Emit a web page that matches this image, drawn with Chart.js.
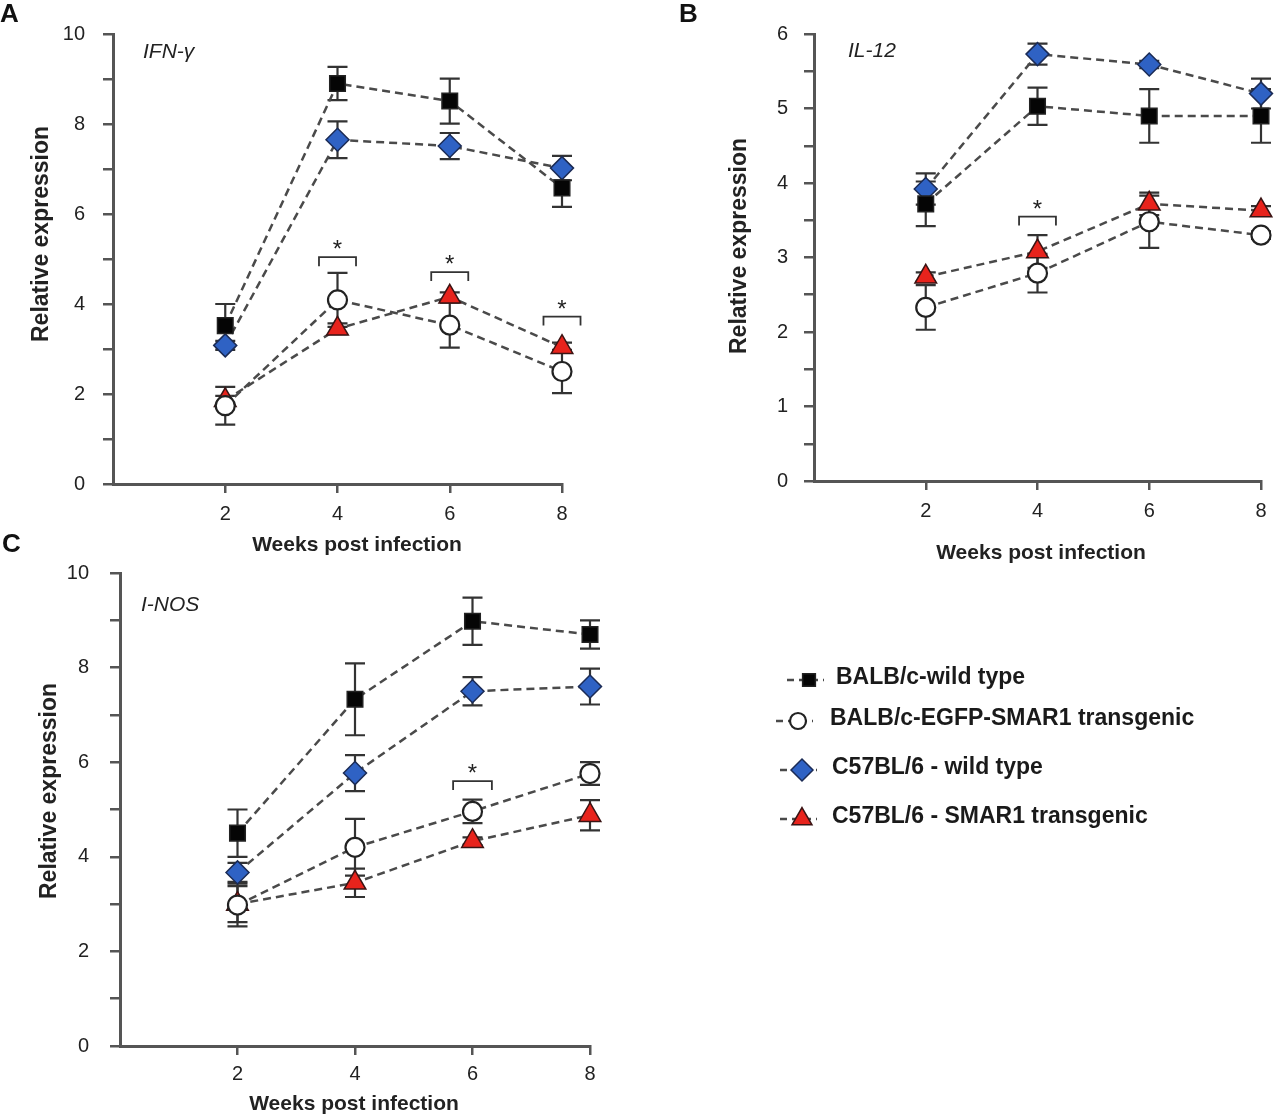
<!DOCTYPE html>
<html><head><meta charset="utf-8">
<script src="https://cdn.jsdelivr.net/npm/chart.js@4.4.1/dist/chart.umd.min.js"></script>
<style>
html,body{margin:0;padding:0;background:#fff}
body{width:1281px;height:1117px;position:relative;overflow:hidden;font-family:'Liberation Sans',Arial,sans-serif}
canvas{position:absolute}
.letter{position:absolute;font-weight:bold;font-size:26px;line-height:1;color:#111}
.gene{position:absolute;font-style:italic;font-size:21px;line-height:1;color:#222}
</style></head><body>
<canvas id="cA" width="640" height="570" style="left:0;top:0"></canvas>
<canvas id="cB" width="601" height="575" style="left:680px;top:0"></canvas>
<canvas id="cC" width="1281" height="577" style="left:0;top:540px"></canvas>
<div class="letter" style="left:0;top:0">A</div>
<div class="letter" style="left:679px;top:0">B</div>
<div class="letter" style="left:2px;top:530px">C</div>
<div class="gene" style="left:143px;top:40px">IFN-γ</div>
<div class="gene" style="left:848px;top:39px">IL-12</div>
<div class="gene" style="left:141px;top:593px">I-NOS</div>
<script>
// ---------- data ----------
const weeks = [2, 4, 6, 8];
const xTickLabels = [2, 4, 6, 8];
const yTickLabels10 = [0, 2, 4, 6, 8, 10];
const yTickLabels6 = [0, 1, 2, 3, 4, 5, 6];
const seriesNames = ['BALB/c-wild type', 'BALB/c-EGFP-SMAR1 transgenic', 'C57BL/6 - wild type', 'C57BL/6 - SMAR1 transgenic'];

// Panel A: IFN-γ
const ifnBalbWT = [3.52, 8.90, 8.51, 6.58];
const ifnBalbWTErr = [0.48, 0.37, 0.50, 0.42];
const ifnBalbTg = [1.74, 4.09, 3.53, 2.50];
const ifnBalbTgErr = [0.42, 0.60, 0.50, 0.48];
const ifnC57WT = [3.08, 7.65, 7.51, 7.02];
const ifnC57WTErr = [0.10, 0.41, 0.29, 0.27];
const ifnC57Tg = [1.86, 3.45, 4.16, 3.04];
const ifnC57TgErr = [0.10, 0.12, 0.10, 0.10];
const ifnSigWeeks = [4, 6, 8];
const ifnSigLevels = [5.04, 4.71, 3.72];

// Panel B: IL-12
const il12BalbWT = [3.72, 5.03, 4.90, 4.90];
const il12BalbWTErr = [0.30, 0.25, 0.36, 0.36];
const il12BalbTg = [2.33, 2.79, 3.48, 3.30];
const il12BalbTgErr = [0.30, 0.26, 0.35, 0.05];
const il12C57WT = [3.92, 5.73, 5.59, 5.20];
const il12C57WTErr = [0.21, 0.14, 0.05, 0.20];
const il12C57Tg = [2.74, 3.08, 3.72, 3.63];
const il12C57TgErr = [0.06, 0.22, 0.15, 0.06];
const il12SigWeeks = [4];
const il12SigLevels = [3.55];

// Panel C: I-NOS
const inosBalbWT = [4.50, 7.33, 8.98, 8.70];
const inosBalbWTErr = [0.50, 0.76, 0.50, 0.30];
const inosBalbTg = [2.98, 4.20, 4.96, 5.76];
const inosBalbTgErr = [0.45, 0.60, 0.25, 0.24];
const inosC57WT = [3.67, 5.77, 7.50, 7.60];
const inosC57WTErr = [0.20, 0.38, 0.30, 0.38];
const inosC57Tg = [3.00, 3.45, 4.33, 4.88];
const inosC57TgErr = [0.38, 0.30, 0.08, 0.32];
const inosSigWeeks = [6];
const inosSigLevels = [5.60];

// ---------- styles ----------
const FF = "'Liberation Sans', Arial, sans-serif";
const markerStyles = [
  {pointStyle: 'rect', radius: 11, bg: '#050505', border: '#222', bw: 1.5, legendRadius: 9},
  {pointStyle: 'circle', radius: 9.5, bg: '#ffffff', border: '#222', bw: 2.2, legendRadius: 8},
  {pointStyle: 'rectRot', radius: 11.5, bg: '#2f62c4', border: '#1b2b55', bw: 1.5, legendRadius: 11},
  {pointStyle: 'triangle', radius: 12.5, bg: '#e8231c', border: '#3a1414', bw: 1.5, legendRadius: 11.5}
];

function makeDatasets(valsList, errList) {
  return valsList.map((vals, k) => {
    const s = markerStyles[k];
    return {
      label: seriesNames[k],
      data: weeks.map((w, i) => ({x: w, y: vals[i]})),
      errors: errList[k],
      borderColor: '#4a4a4a', borderWidth: 2.5, borderDash: [8, 5],
      pointStyle: s.pointStyle, pointRadius: s.radius, pointHoverRadius: s.radius,
      pointBackgroundColor: s.bg, pointBorderColor: s.border, pointBorderWidth: s.bw,
      fill: false, tension: 0, clip: false
    };
  });
}

// ---------- plugins ----------
const errorBarPlugin = {
  id: 'errorBars',
  beforeDatasetsDraw(chart) {
    const ctx = chart.ctx, ys = chart.scales.y;
    ctx.save();
    ctx.strokeStyle = '#333'; ctx.lineWidth = 2.2; ctx.setLineDash([]);
    chart.data.datasets.forEach((ds, di) => {
      const meta = chart.getDatasetMeta(di);
      meta.data.forEach((pt, i) => {
        const v = ds.data[i].y, e = ds.errors[i];
        const x = pt.x, t = ys.getPixelForValue(v + e), b = ys.getPixelForValue(v - e);
        ctx.beginPath();
        ctx.moveTo(x, t); ctx.lineTo(x, b);
        ctx.moveTo(x - 10, t); ctx.lineTo(x + 10, t);
        ctx.moveTo(x - 10, b); ctx.lineTo(x + 10, b);
        ctx.stroke();
      });
    });
    ctx.restore();
  }
};

const sigPlugin = {
  id: 'sig',
  afterDatasetsDraw(chart, args, opts) {
    const ctx = chart.ctx, xs = chart.scales.x, ys = chart.scales.y;
    const w = opts.weeks || [], l = opts.levels || [];
    ctx.save();
    ctx.strokeStyle = '#333'; ctx.lineWidth = 1.8; ctx.setLineDash([]);
    ctx.fillStyle = '#222'; ctx.font = '24px ' + FF; ctx.textAlign = 'center'; ctx.textBaseline = 'alphabetic';
    for (let i = 0; i < w.length; i++) {
      const x0 = xs.getPixelForValue(w[i] - 0.33), x1 = xs.getPixelForValue(w[i] + 0.33);
      const xc = xs.getPixelForValue(w[i]);
      const y = ys.getPixelForValue(l[i]);
      ctx.beginPath();
      ctx.moveTo(x0, y + 9); ctx.lineTo(x0, y); ctx.lineTo(x1, y); ctx.lineTo(x1, y + 9);
      ctx.stroke();
      ctx.fillText('*', xc, y);
    }
    ctx.restore();
  }
};

const textPlugin = {
  id: 'texts',
  afterDraw(chart, args, opts) {
    const ctx = chart.ctx;
    (opts.items || []).forEach(t => {
      ctx.save();
      ctx.translate(t.x, t.y);
      if (t.rot) ctx.rotate(t.rot);
      ctx.font = t.font; ctx.fillStyle = '#222';
      ctx.textAlign = 'center'; ctx.textBaseline = 'middle';
      ctx.fillText(t.text, 0, 0);
      ctx.restore();
    });
  }
};

function drawMarker(ctx, s, r, x, y) {
  ctx.fillStyle = s.bg; ctx.strokeStyle = s.border; ctx.lineWidth = s.bw;
  if (window.Chart && Chart.helpers && Chart.helpers.drawPoint) {
    Chart.helpers.drawPoint(ctx, {pointStyle: s.pointStyle, rotation: 0, radius: r, borderWidth: s.bw}, x, y);
    return;
  }
  ctx.beginPath();
  if (s.pointStyle === 'circle') ctx.arc(x, y, r, 0, Math.PI * 2);
  else if (s.pointStyle === 'rect') { const h = r / Math.SQRT2; ctx.rect(x - h, y - h, 2 * h, 2 * h); }
  else if (s.pointStyle === 'rectRot') { ctx.moveTo(x, y - r); ctx.lineTo(x + r, y); ctx.lineTo(x, y + r); ctx.lineTo(x - r, y); ctx.closePath(); }
  else { ctx.moveTo(x, y - r); ctx.lineTo(x + r * 0.866, y + r / 2); ctx.lineTo(x - r * 0.866, y + r / 2); ctx.closePath(); }
  ctx.fill(); ctx.stroke();
}

const legendPlugin = {
  id: 'seriesLegend',
  afterDraw(chart, args, opts) {
    if (!opts.show) return;
    const ctx = chart.ctx;
    chart.data.datasets.forEach((ds, i) => {
      const p = opts.pos[i];
      const s = markerStyles[i];
      ctx.save();
      ctx.strokeStyle = '#4a4a4a'; ctx.lineWidth = 2.5; ctx.setLineDash([7, 5]);
      ctx.beginPath(); ctx.moveTo(p.mx - 22, p.y); ctx.lineTo(p.mx + 15, p.y); ctx.stroke();
      ctx.setLineDash([]);
      drawMarker(ctx, s, s.legendRadius, p.mx, p.y);
      ctx.fillStyle = '#1a1a1a'; ctx.font = 'bold 23px ' + FF;
      ctx.textAlign = 'left'; ctx.textBaseline = 'middle';
      ctx.fillText(ds.label, p.tx, p.y - 2);
      ctx.restore();
    });
  }
};

function makeChart(id, cfg) {
  return new Chart(document.getElementById(id), {
    type: 'line',
    data: {datasets: cfg.datasets},
    options: {
      responsive: false, animation: false, events: [],
      layout: {padding: cfg.pad},
      plugins: {
        legend: {display: false}, tooltip: {enabled: false},
        sig: {weeks: cfg.sigW, levels: cfg.sigL},
        texts: {items: cfg.texts},
        seriesLegend: cfg.legend || {show: false}
      },
      scales: {
        x: {
          type: 'linear', min: 0, max: 8,
          ticks: {stepSize: 2, autoSkip: false, padding: cfg.xTickPad, color: '#222', font: {family: FF, size: 20},
                  callback: v => xTickLabels.includes(v) ? String(v) : ''},
          grid: {drawOnChartArea: false, drawTicks: true, tickLength: 9, lineWidth: 2.5,
                 color: c => (c.tick && c.tick.value === 0) ? 'rgba(0,0,0,0)' : '#555'},
          border: {display: true, color: '#555', width: 3},
          afterFit: s => { s.height = cfg.xH; }
        },
        y: {
          type: 'linear', min: 0, max: cfg.yMax,
          ticks: {stepSize: cfg.yStep, autoSkip: false, padding: cfg.yTickPad, color: '#222', font: {family: FF, size: 20},
                  callback: v => cfg.yLabels.includes(v) ? String(v) : ''},
          grid: {drawOnChartArea: false, drawTicks: true, tickLength: 10, lineWidth: 2.5, color: '#555'},
          border: {display: true, color: '#555', width: 3},
          afterFit: s => { s.width = cfg.yW; }
        }
      }
    },
    plugins: [errorBarPlugin, sigPlugin, textPlugin, legendPlugin]
  });
}

const yTitleFont = 'bold 23px ' + FF;
const xTitleFont = 'bold 21px ' + FF;

makeChart('cA', {
  datasets: makeDatasets([ifnBalbWT, ifnBalbTg, ifnC57WT, ifnC57Tg], [ifnBalbWTErr, ifnBalbTgErr, ifnC57WTErr, ifnC57TgErr]),
  pad: {top: 34, right: 78, bottom: 0, left: 0},
  yW: 113, xH: 86, yMax: 10, yStep: 1, yLabels: yTickLabels10, yTickPad: 18, xTickPad: 9,
  sigW: ifnSigWeeks, sigL: ifnSigLevels,
  texts: [
    {text: 'Relative expression', x: 42, y: 234, rot: -Math.PI / 2, font: yTitleFont},
    {text: 'Weeks post infection', x: 357, y: 545, font: xTitleFont}
  ]
});

makeChart('cB', {
  datasets: makeDatasets([il12BalbWT, il12BalbTg, il12C57WT, il12C57Tg], [il12BalbWTErr, il12BalbTgErr, il12C57WTErr, il12C57TgErr]),
  pad: {top: 34, right: 20, bottom: 0, left: 0},
  yW: 134, xH: 94, yMax: 6, yStep: 0.5, yLabels: yTickLabels6, yTickPad: 16, xTickPad: 9,
  sigW: il12SigWeeks, sigL: il12SigLevels,
  texts: [
    {text: 'Relative expression', x: 60, y: 246, rot: -Math.PI / 2, font: yTitleFont},
    {text: 'Weeks post infection', x: 361, y: 553, font: xTitleFont}
  ]
});

makeChart('cC', {
  datasets: makeDatasets([inosBalbWT, inosBalbTg, inosC57WT, inosC57Tg], [inosBalbWTErr, inosBalbTgErr, inosC57WTErr, inosC57TgErr]),
  pad: {top: 33, right: 691, bottom: 0, left: 0},
  yW: 120, xH: 71, yMax: 10, yStep: 1, yLabels: yTickLabels10, yTickPad: 21, xTickPad: 7,
  sigW: inosSigWeeks, sigL: inosSigLevels,
  texts: [
    {text: 'Relative expression', x: 50, y: 251, rot: -Math.PI / 2, font: yTitleFont},
    {text: 'Weeks post infection', x: 354, y: 564, font: xTitleFont}
  ],
  legend: {show: true, pos: [
    {mx: 809, tx: 836, y: 140},
    {mx: 798, tx: 830, y: 181},
    {mx: 802, tx: 832, y: 230},
    {mx: 802, tx: 832, y: 279}
  ]}
});
</script>
</body></html>
